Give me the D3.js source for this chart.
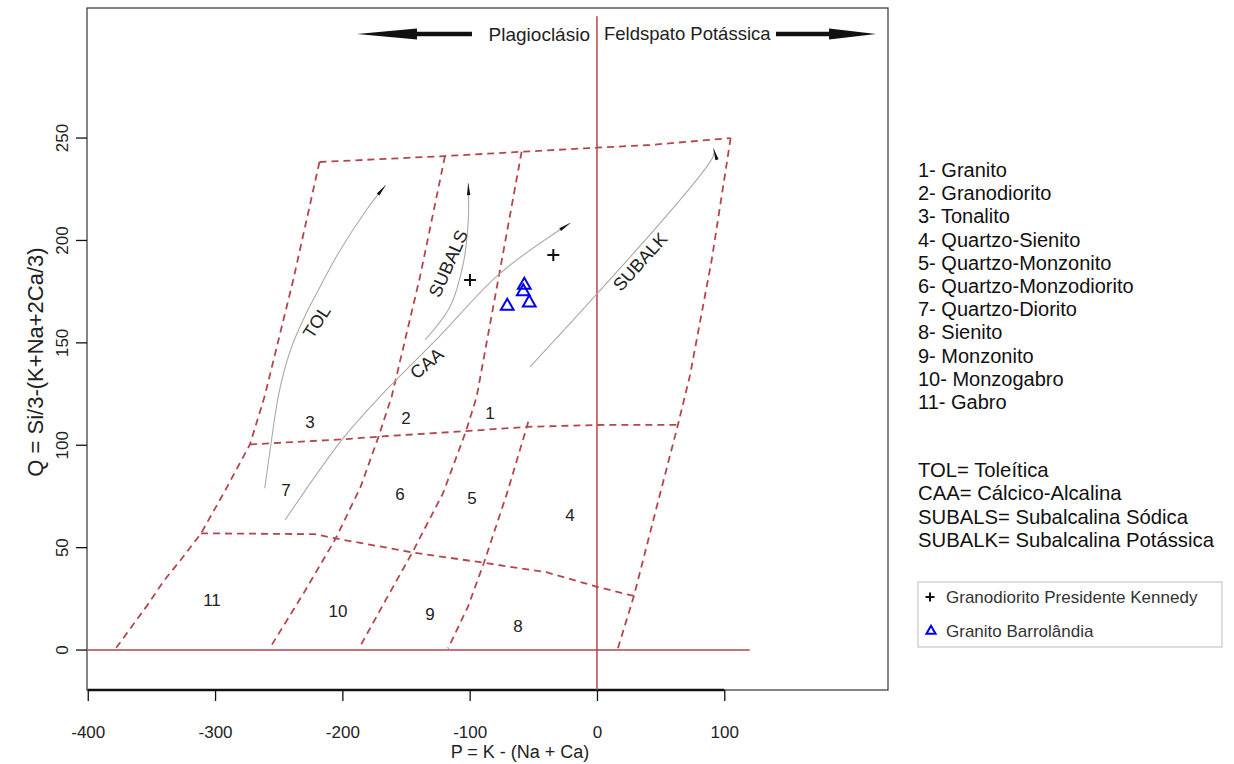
<!DOCTYPE html>
<html>
<head>
<meta charset="utf-8">
<script src="https://cdn.jsdelivr.net/npm/d3@7"></script>
<style>
  body { margin: 0; background: #fff; }
  svg { font-family: "Liberation Sans", Arial, sans-serif; }
</style>
</head>
<body>
<div id="container"></div>
<script>
const width = 1234;
const height = 764;
const box = {left: 87, top: 8, right: 888, bottom: 690};
const red = "#b3464b";

// DATA
const xTicks = [-400, -300, -200, -100, 0, 100];
const yTicks = [0, 50, 100, 150, 200, 250];

// field boundaries (P, Q)
const topEdge = [[-218, 238.3], [-119.4, 241.2], [-59.2, 243.3], [0, 245.3], [41.6, 246.6], [105, 250]];
const leftEdge = [[-218, 238.3], [-238.6, 180.7], [-261, 124], [-272.6, 100.4], [-292, 78], [-311, 57],
  [-327, 44], [-340, 34], [-354, 21.2], [-366, 11], [-378, 0.8]];
const line2 = [[-119.4, 241.2], [-139, 182.3], [-161.3, 123.7], [-171.6, 104.2], [-185.6, 79.8], [-205.2, 54.5],
  [-230.5, 27.7], [-257, 1]];
const line3 = [[-59.2, 243.3], [-76.2, 185.5], [-94.5, 123.7], [-102.9, 106.9], [-121, 76.5], [-145, 47.7],
  [-166, 24.4], [-187, 0.8]];
const line4 = [[-54, 111.5], [-55.1, 109], [-70.7, 76.5], [-88.8, 42.6], [-101.4, 21.1], [-117, 0.8]];
const rightEdge = [[105, 250], [90.1, 190.4], [73, 134], [63.6, 110], [46.3, 68.4], [29, 26.4], [16.4, 0.8]];
const midLine = [[-272.6, 100.4], [-199.6, 102.9], [-171.6, 104.2], [-102.9, 106.9], [-55.1, 109], [0, 109.9], [63.6, 110]];
const lowLine = [[-311, 57], [-222, 56.6], [-205.2, 54.5], [-145, 47.7], [-88.8, 42.6], [-39.7, 38], [0, 30.9], [29, 26.4]];
const fieldLines = [topEdge, leftEdge, line2, line3, line4, rightEdge, midLine, lowLine];

// reference lines P = 0 and Q = 0
const zeroLineP = [-400, 120];
const zeroLineQ = [-19.5, 309.5];

// trend curves
const tolCurve = [[-261, 79], [-256, 101], [-250, 125], [-241, 146], [-231, 161], [-217, 178], [-202, 195], [-181, 215], [-166, 227]];
const subalsCurve = [[-135.1, 151.4], [-115.5, 167.6], [-105, 188.8], [-101.1, 210], [-101.1, 228]];
const caaCurve = [[-245, 63.5], [-200, 103], [-170.5, 123.7], [-124, 153], [-76.2, 183.9], [-21, 208.5]];
const subalkCurve = [[-52.6, 138.3], [91.2, 241], [91.5, 245]];
const trendCurves = [tolCurve, subalsCurve, caaCurve, subalkCurve];

const curveNames = ["TOL", "SUBALS", "CAA", "SUBALK"];
const curveNamePos = [[-220.2, 160.3], [-116.8, 188.8], [-133.8, 140], [33.8, 189.6]];

const fieldNames = ["1", "2", "3", "4", "5", "6", "7", "8", "9", "10", "11"];
const fieldNamePos = [[-84, 115.7], [-150, 113.3], [-225.5, 111.3], [-21.2, 65.9], [-98.2, 74.2], [-154.8, 76.2],
  [-244.3, 78.1], [-62, 11.7], [-131.2, 17.6], [-203.5, 19], [-302.4, 24.4]];

// samples
const kennedy = [[-99.8, 180.7], [-34.3, 192.9]];
const barrolandia = [[-70.5, 168], [-57.1, 178.2], [-57.9, 175], [-53.2, 169.6]];

// header arrows: tip, head base, shaft end (P), at Q level
const leftArrowP = [-188.5, -141.4, -98.2];
const rightArrowP = [219.2, 182.3, 140.6];
const arrowQ = 300.8;

const fieldLegend = ["1- Granito", "2- Granodiorito", "3- Tonalito", "4- Quartzo-Sienito", "5- Quartzo-Monzonito",
  "6- Quartzo-Monzodiorito", "7- Quartzo-Diorito", "8- Sienito", "9- Monzonito", "10- Monzogabro", "11- Gabro"];
const seriesLegend = ["TOL= Toleítica", "CAA= Cálcico-Alcalina", "SUBALS= Subalcalina Sódica", "SUBALK= Subalcalina Potássica"];
const sampleLegend = ["Granodiorito Presidente Kennedy", "Granito Barrolândia"];

const svg = d3.select("div#container").append("svg")
    .attr("width", width)
    .attr("height", height);

// SCALES
const x = d3.scaleLinear().domain([-400.6, 228.6]).range([box.left, box.right]);
const y = d3.scaleLinear().domain([-19.5, 313.5]).range([box.bottom, box.top]);

const line = d3.line()
    .x(d => x(d[0]))
    .y(d => y(d[1]));

const smooth = d3.line()
    .x(d => x(d[0]))
    .y(d => y(d[1]))
    .curve(d3.curveCatmullRom);

// arrowhead marker for trend curves
svg.append("defs").append("marker")
    .attr("id", "head")
    .attr("markerUnits", "userSpaceOnUse")
    .attr("viewBox", "-13 -3 14 6")
    .attr("refX", 0).attr("refY", 0)
    .attr("markerWidth", 14).attr("markerHeight", 6)
    .attr("orient", "auto")
    .append("path")
    .attr("d", "M-12,-1.7L0,0L-12,1.7Z")
    .attr("fill", "#111");

// BOX
svg.append("rect")
    .attr("x", box.left).attr("y", box.top)
    .attr("width", box.right - box.left).attr("height", box.bottom - box.top)
    .attr("fill", "none").attr("stroke", "#333").attr("stroke-width", 1.2);

// AXES
const xaxis = d3.axisBottom(x).tickValues(xTicks).tickSize(11).tickPadding(25)
    .tickFormat(d => String(d));
const gx = svg.append("g")
    .attr("transform", "translate(0," + box.bottom + ")")
    .call(xaxis);
gx.select(".domain").remove();
gx.selectAll(".tick line").attr("stroke", "#111").attr("stroke-width", 1.3);
gx.selectAll(".tick text").attr("fill", "#222").style("font-size", "17px");
gx.append("line")
    .attr("x1", x(xTicks[0])).attr("x2", x(xTicks[xTicks.length - 1]))
    .attr("stroke", "#111").attr("stroke-width", 2.4);

const gy = svg.append("g");
gy.selectAll("line.tick")
    .data(yTicks)
    .enter().append("line")
    .attr("x1", box.left - 11).attr("x2", box.left)
    .attr("y1", d => y(d)).attr("y2", d => y(d))
    .attr("stroke", "#111").attr("stroke-width", 1.3);
gy.selectAll("text")
    .data(yTicks)
    .enter().append("text")
    .attr("transform", d => "translate(" + (box.left - 25) + "," + y(d) + ") rotate(-90)")
    .attr("text-anchor", "middle")
    .attr("dy", "0.35em")
    .attr("fill", "#222")
    .style("font-size", "17px")
    .text(d => d);

svg.append("text")
    .attr("x", 520).attr("y", 752)
    .attr("text-anchor", "middle").attr("dy", "0.35em")
    .style("font-size", "18px").attr("fill", "#222")
    .text("P = K - (Na + Ca)");

svg.append("text")
    .attr("transform", "translate(35," + 362 + ") rotate(-90)")
    .attr("text-anchor", "middle").attr("dy", "0.35em")
    .style("font-size", "22px").attr("fill", "#222")
    .text("Q = Si/3-(K+Na+2Ca/3)");

// REFERENCE LINES
svg.append("line")
    .attr("x1", x(zeroLineP[0])).attr("x2", x(zeroLineP[1]))
    .attr("y1", y(0)).attr("y2", y(0))
    .attr("stroke", red).attr("stroke-width", 1.5);
svg.append("line")
    .attr("x1", x(0)).attr("x2", x(0))
    .attr("y1", y(zeroLineQ[0])).attr("y2", y(zeroLineQ[1]))
    .attr("stroke", red).attr("stroke-width", 1.5);

// FIELDS
svg.append("g").selectAll("path")
    .data(fieldLines)
    .enter().append("path")
    .attr("d", line)
    .attr("fill", "none")
    .attr("stroke", red)
    .attr("stroke-width", 1.8)
    .attr("stroke-dasharray", "7,5");

svg.append("g").selectAll("text")
    .data(fieldNames)
    .enter().append("text")
    .attr("x", (d, i) => x(fieldNamePos[i][0]))
    .attr("y", (d, i) => y(fieldNamePos[i][1]))
    .attr("text-anchor", "middle").attr("dy", "0.35em")
    .style("font-size", "17px").attr("fill", "#222")
    .text(d => d);

// TREND CURVES
svg.append("g").selectAll("path")
    .data(trendCurves)
    .enter().append("path")
    .attr("d", smooth)
    .attr("fill", "none")
    .attr("stroke", "#aaa")
    .attr("stroke-width", 1.1)
    .attr("marker-end", "url(#head)");

const nameAngle = [-57, -66, -40, -48];
svg.append("g").selectAll("text")
    .data(curveNames)
    .enter().append("text")
    .attr("transform", (d, i) => "translate(" + x(curveNamePos[i][0]) + "," + y(curveNamePos[i][1]) + ") rotate(" + nameAngle[i] + ")")
    .attr("text-anchor", "middle").attr("dy", "0.35em")
    .style("font-size", "18px").attr("fill", "#222")
    .text(d => d);

// SAMPLES
const cross = "M-6,0H6M0,-6V6";
svg.append("g").selectAll("path")
    .data(kennedy)
    .enter().append("path")
    .attr("transform", d => "translate(" + x(d[0]) + "," + y(d[1]) + ")")
    .attr("d", cross)
    .attr("stroke", "#111").attr("stroke-width", 2);

const tri = d3.symbol().type(d3.symbolTriangle).size(70);
svg.append("g").selectAll("path")
    .data(barrolandia)
    .enter().append("path")
    .attr("transform", d => "translate(" + x(d[0]) + "," + y(d[1]) + ")")
    .attr("d", tri)
    .attr("fill", "none").attr("stroke", "#0000ee").attr("stroke-width", 2);

// HEADER
function headArrow(p) {
  const yy = y(arrowQ);
  return "M" + x(p[0]) + "," + yy +
    "L" + x(p[1]) + "," + (yy - 5.5) +
    "L" + x(p[1]) + "," + (yy - 2.3) +
    "L" + x(p[2]) + "," + (yy - 2.3) +
    "L" + x(p[2]) + "," + (yy + 2.3) +
    "L" + x(p[1]) + "," + (yy + 2.3) +
    "L" + x(p[1]) + "," + (yy + 5.5) + "Z";
}
svg.append("path").attr("d", headArrow(leftArrowP)).attr("fill", "#111");
svg.append("path").attr("d", headArrow(rightArrowP)).attr("fill", "#111");

svg.append("text")
    .attr("x", x(0) - 7).attr("y", y(arrowQ))
    .attr("text-anchor", "end").attr("dy", "0.35em")
    .style("font-size", "19px").attr("fill", "#222")
    .text("Plagioclásio");
svg.append("text")
    .attr("x", x(0) + 7).attr("y", y(arrowQ))
    .attr("text-anchor", "start").attr("dy", "0.35em")
    .style("font-size", "18.5px").attr("fill", "#222")
    .text("Feldspato Potássica");

// LEGENDS
svg.append("g").selectAll("text")
    .data(fieldLegend)
    .enter().append("text")
    .attr("x", 918).attr("y", (d, i) => 170 + i * 23.2)
    .attr("dy", "0.35em")
    .style("font-size", "20px").attr("fill", "#111")
    .text(d => d);

svg.append("g").selectAll("text")
    .data(seriesLegend)
    .enter().append("text")
    .attr("x", 918).attr("y", (d, i) => 470 + i * 23.3)
    .attr("dy", "0.35em")
    .style("font-size", "20.3px").attr("fill", "#111")
    .text(d => d);

const lg = svg.append("g");
lg.append("rect")
    .attr("x", 918).attr("y", 582).attr("width", 304).attr("height", 65)
    .attr("fill", "none").attr("stroke", "#bbb").attr("stroke-width", 1);
lg.append("path")
    .attr("transform", "translate(930,597)")
    .attr("d", "M-4.5,0H4.5M0,-4.5V4.5")
    .attr("stroke", "#111").attr("stroke-width", 2);
lg.append("path")
    .attr("transform", "translate(931,631)")
    .attr("d", d3.symbol().type(d3.symbolTriangle).size(36))
    .attr("fill", "none").attr("stroke", "#0000ee").attr("stroke-width", 2);
lg.selectAll("text")
    .data(sampleLegend)
    .enter().append("text")
    .attr("x", 946).attr("y", (d, i) => 597 + i * 34)
    .attr("dy", "0.35em")
    .style("font-size", "17px").attr("fill", "#333")
    .text(d => d);
</script>
</body>
</html>
